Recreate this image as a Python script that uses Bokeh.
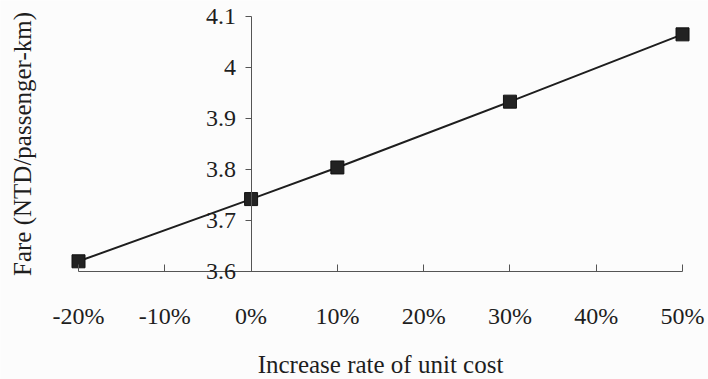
from bokeh.plotting import figure
from bokeh.models import LinearAxis, FixedTicker, Range1d, Label
from bokeh.embed import file_html
from bokeh.resources import INLINE

# Fare response to changes in unit cost
increase_rate = [-20, 0, 10, 30, 50]
fare = [3.62, 3.742, 3.804, 3.933, 4.065]

x_ticks = [-20, -10, 0, 10, 20, 30, 40, 50]
x_tick_labels = ["-20%", "-10%", "0%", "10%", "20%", "30%", "40%", "50%"]
y_ticks = [3.6, 3.7, 3.8, 3.9, 4.0, 4.1]
y_tick_labels = ["3.6", "3.7", "3.8", "3.9", "4", "4.1"]

FONT = "Liberation Serif"
INK = "#1e1e1e"
AXIS = "#555555"
PAPER = "#fcfcfc"

# The frame fills the whole canvas so that both axes can cross inside it
# (x axis at 3.6, y axis at 0%) without their labels being clipped.
p = figure(
    width=708, height=379,
    x_range=Range1d(-29.04, 53.01), y_range=Range1d(3.38824, 4.13137),
    x_axis_location=None, y_axis_location=None,
    min_border_left=0, min_border_right=0,
    min_border_top=0, min_border_bottom=0,
    output_backend="svg", toolbar_location=None,
    background_fill_color=PAPER, border_fill_color=PAPER,
)
p.outline_line_color = None
p.grid.visible = False

# horizontal axis at 3.6
xa = LinearAxis(
    ticker=FixedTicker(ticks=x_ticks),
    major_label_overrides=dict(zip(x_ticks, x_tick_labels)),
    axis_label="Increase rate of unit cost",
    fixed_location=3.6,
    bounds=(-20, 50),
)
xa.axis_line_color = AXIS
xa.major_tick_line_color = AXIS
xa.major_tick_in = 7
xa.major_tick_out = 0
xa.minor_tick_line_color = None
xa.major_label_standoff = 31
xa.axis_label_standoff = 19
xa.major_label_text_font = FONT
xa.major_label_text_font_size = "24px"
xa.major_label_text_color = INK
xa.axis_label_text_font = FONT
xa.axis_label_text_font_style = "normal"
xa.axis_label_text_font_size = "25px"
xa.axis_label_text_color = INK
p.add_layout(xa, "below")

# vertical axis crossing at 0%
ya = LinearAxis(
    ticker=FixedTicker(ticks=y_ticks),
    major_label_overrides=dict(zip(y_ticks, y_tick_labels)),
    fixed_location=0,
    bounds=(3.6, 4.1),
)
ya.axis_line_color = AXIS
ya.major_tick_line_color = AXIS
ya.major_tick_in = 0
ya.major_tick_out = 6
ya.minor_tick_line_color = None
ya.major_label_standoff = 9
ya.major_label_text_font = FONT
ya.major_label_text_font_size = "24px"
ya.major_label_text_color = INK
p.add_layout(ya, "left")

# y title, centred on the axis span near the left edge
p.add_layout(Label(
    x=22, x_units="screen", y=(y_ticks[0] + y_ticks[-1]) / 2, y_units="data",
    text="Fare (NTD/passenger-km)", angle=90, angle_units="deg",
    text_align="center", text_baseline="middle",
    text_font=FONT, text_font_size="25px", text_color=INK,
))

p.line(increase_rate, fare, line_color=INK, line_width=2)
p.scatter(increase_rate, fare, marker="square", size=13,
          fill_color="#222", line_color="#111")

open("out.html", "w").write(file_html(p, INLINE))
